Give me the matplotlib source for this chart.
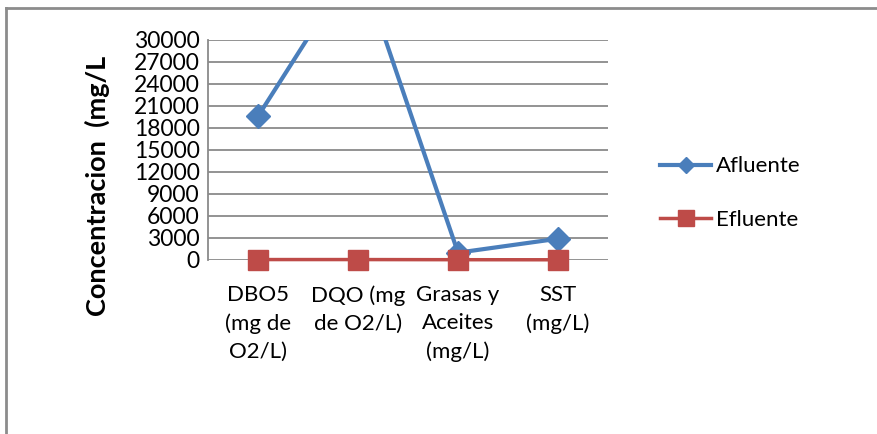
import matplotlib
matplotlib.use("Agg")
import matplotlib.pyplot as plt
from matplotlib.lines import Line2D

plt.rcParams['font.family'] = ['Lato', 'DejaVu Sans']

categories = ["DBO5\n(mg de\nO2/L)", "DQO (mg\nde O2/L)", "Grasas y\nAceites\n(mg/L)", "SST\n(mg/L)"]
afluente = [19600, 41000, 1000, 2900]
efluente = [60, 60, 40, 30]
yticks = [0, 3000, 6000, 9000, 12000, 15000, 18000, 21000, 24000, 27000, 30000]

W, H = 877, 434
fig = plt.figure(figsize=(W / 100, H / 100), dpi=100)
ax = fig.add_axes([208 / W, (H - 260) / H, 400 / W, 220 / H])

x = list(range(len(categories)))
blue = '#4A7EBB'
red = '#BE4B48'
ax.plot(x, afluente, color=blue, lw=3, marker='D', ms=12, clip_on=True, zorder=3,
        label='Afluente')
ax.plot(x, efluente, color=red, lw=2.5, marker='s', ms=15, clip_on=False, zorder=4,
        label='Efluente')

ax.set_ylim(0, 30000)
ax.set_xlim(-0.5, 3.5)
ax.set_yticks(yticks)
ax.set_yticklabels([str(v) for v in yticks], fontsize=16.5)
ax.set_xticks(x)
ax.set_xticklabels(categories, fontsize=16, linespacing=1.5, va='top')
ax.tick_params(axis='both', length=0, pad=6)
ax.tick_params(axis='x', pad=18)
ax.grid(axis='y', color='#8a8a8a', lw=1.3)
ax.set_axisbelow(True)
for s in ['top', 'right', 'bottom']:
    ax.spines[s].set_visible(False)
ax.spines['left'].set_color('#8a8a8a')
ax.spines['left'].set_linewidth(1.3)

fig.text(97 / W, 1 - 186 / H, "Concentracion  (mg/L", rotation=90, fontsize=19.5,
         fontweight='bold', ha='center', va='center')

handles = [Line2D([0], [0], color=blue, lw=3, marker='D', ms=8),
           Line2D([0], [0], color=red, lw=2.5, marker='s', ms=12)]
fig.legend(handles, ['Afluente', 'Efluente'], loc='center left',
           bbox_to_anchor=(640 / W, 1 - 193 / H), frameon=False, fontsize=16,
           handlelength=2.3, handletextpad=0.2, labelspacing=1.5)

# outer border
fig.add_artist(Line2D([6 / W, 1.0], [1 - 8 / H, 1 - 8 / H], color='#8c8c8c', lw=2,
                      transform=fig.transFigure))
fig.add_artist(Line2D([6 / W, 6 / W], [0, 1 - 8 / H], color='#8c8c8c', lw=2,
                      transform=fig.transFigure))

fig.savefig('out.png', dpi=100)
